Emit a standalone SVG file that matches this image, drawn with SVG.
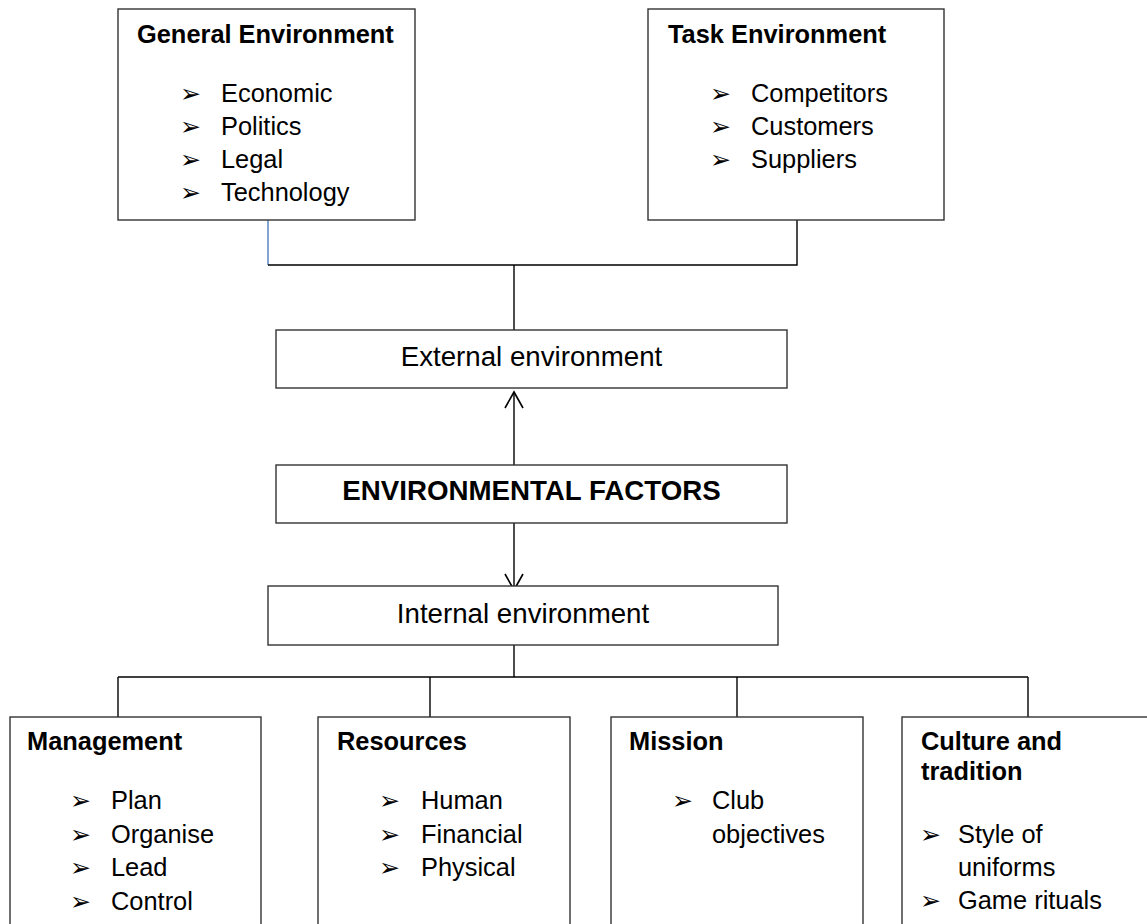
<svg xmlns="http://www.w3.org/2000/svg" width="1147" height="924" viewBox="0 0 1147 924">
<defs>
<style>
.box{fill:#fff;stroke:#333;stroke-width:1.4}
.t{font-family:"Liberation Sans",Arial,sans-serif;font-size:25.4px;fill:#000}
.b{font-weight:bold}
.m{font-family:"Liberation Sans",Arial,sans-serif;font-size:27.7px;fill:#000}
.bu{font-family:"DejaVu Sans",sans-serif;font-size:25px;fill:#000}
.c{fill:none;stroke:#000;stroke-width:1.4}
</style>
<marker id="open" viewBox="-18 -11 20 22" markerWidth="20" markerHeight="22" refX="0" refY="0" orient="auto" markerUnits="userSpaceOnUse">
<path d="M-16,-9 L0,0 L-16,9" fill="none" stroke="#000" stroke-width="1.6"/>
</marker>
</defs>
<rect width="1147" height="924" fill="#fff"/>
<g id="connectors">
<line x1="268" y1="220" x2="268" y2="265" stroke="#4f81bd" stroke-width="1.4"/>
<polyline class="c" points="268,265 797,265 797,220"/>
<line class="c" x1="514" y1="265" x2="514" y2="330"/>
<line class="c" x1="514" y1="465" x2="514" y2="392" marker-end="url(#open)"/>
<line class="c" x1="514" y1="523" x2="514" y2="590" marker-end="url(#open)"/>
<line class="c" x1="514" y1="645" x2="514" y2="677"/>
<line class="c" x1="118" y1="677" x2="1028" y2="677"/>
<line class="c" x1="118" y1="677" x2="118" y2="717"/>
<line class="c" x1="430" y1="677" x2="430" y2="717"/>
<line class="c" x1="737" y1="677" x2="737" y2="717"/>
<line class="c" x1="1028" y1="677" x2="1028" y2="717"/>
</g>
<g id="general">
<rect class="box" x="118" y="9" width="297" height="211"/>
<text class="t b" x="137" y="43">General Environment</text>
<text class="bu" x="180" y="102">➢</text><text class="t" x="221" y="102">Economic</text>
<text class="bu" x="180" y="135">➢</text><text class="t" x="221" y="135">Politics</text>
<text class="bu" x="180" y="168">➢</text><text class="t" x="221" y="168">Legal</text>
<text class="bu" x="180" y="201">➢</text><text class="t" x="221" y="201">Technology</text>
</g>
<g id="task">
<rect class="box" x="648" y="9" width="296" height="211"/>
<text class="t b" x="668" y="43">Task Environment</text>
<text class="bu" x="710" y="102">➢</text><text class="t" x="751" y="102">Competitors</text>
<text class="bu" x="710" y="135">➢</text><text class="t" x="751" y="135">Customers</text>
<text class="bu" x="710" y="168">➢</text><text class="t" x="751" y="168">Suppliers</text>
</g>
<g id="external">
<rect class="box" x="276" y="330" width="511" height="58"/>
<text class="m" x="531.5" y="366" text-anchor="middle">External environment</text>
</g>
<g id="factors">
<rect class="box" x="276" y="465" width="511" height="58"/>
<text class="m b" x="531.5" y="500" text-anchor="middle">ENVIRONMENTAL FACTORS</text>
</g>
<g id="internal">
<rect class="box" x="268" y="586" width="510" height="59"/>
<text class="m" x="523" y="623" text-anchor="middle">Internal environment</text>
</g>
<g id="management">
<rect class="box" x="10" y="717" width="251" height="220"/>
<text class="t b" x="27" y="750">Management</text>
<text class="bu" x="70" y="809">➢</text><text class="t" x="111" y="809">Plan</text>
<text class="bu" x="70" y="843">➢</text><text class="t" x="111" y="843">Organise</text>
<text class="bu" x="70" y="876">➢</text><text class="t" x="111" y="876">Lead</text>
<text class="bu" x="70" y="910">➢</text><text class="t" x="111" y="910">Control</text>
</g>
<g id="resources">
<rect class="box" x="318" y="717" width="252" height="220"/>
<text class="t b" x="337" y="750">Resources</text>
<text class="bu" x="379" y="809">➢</text><text class="t" x="421" y="809">Human</text>
<text class="bu" x="379" y="843">➢</text><text class="t" x="421" y="843">Financial</text>
<text class="bu" x="379" y="876">➢</text><text class="t" x="421" y="876">Physical</text>
</g>
<g id="mission">
<rect class="box" x="611" y="717" width="252" height="220"/>
<text class="t b" x="629" y="750">Mission</text>
<text class="bu" x="672" y="809">➢</text><text class="t" x="712" y="809">Club</text>
<text class="t" x="712" y="843">objectives</text>
</g>
<g id="culture">
<rect class="box" x="902" y="717" width="260" height="220"/>
<text class="t b" x="921" y="750">Culture and</text>
<text class="t b" x="921" y="780">tradition</text>
<text class="bu" x="920" y="843">➢</text><text class="t" x="958" y="843">Style of</text>
<text class="t" x="958" y="876">uniforms</text>
<text class="bu" x="920" y="909">➢</text><text class="t" x="958" y="909">Game rituals</text>
</g>
</svg>
